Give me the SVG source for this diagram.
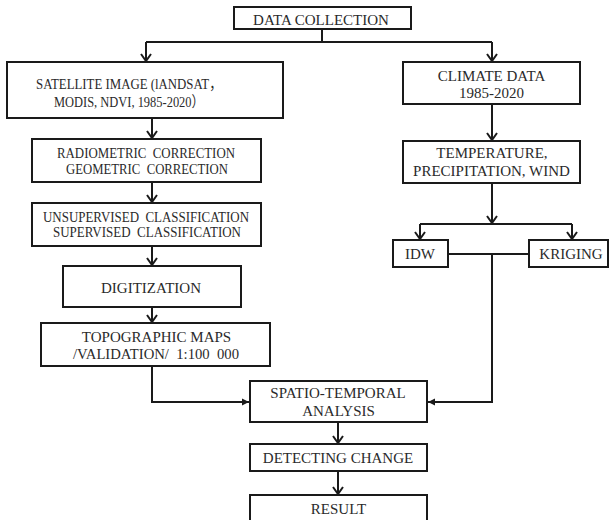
<svg xmlns="http://www.w3.org/2000/svg" width="611" height="520" viewBox="0 0 611 520">
<style>
rect.box{fill:#fff;stroke:#1a1a1a;stroke-width:2}
text{font-family:"Liberation Serif","Times New Roman","Noto Sans CJK SC",serif;font-size:15px;fill:#2a2a2a;text-anchor:middle;white-space:pre}
.c{fill:none;stroke:#1a1a1a;stroke-width:2}
.a{marker-end:url(#chev)}
.f{marker-end:url(#tri)}
</style>
<defs>
<marker id="chev" markerUnits="userSpaceOnUse" markerWidth="20" markerHeight="20" refX="0" refY="0" orient="auto" overflow="visible">
<path d="M-7,-5 L0,0 L-7,5" fill="none" stroke="#1a1a1a" stroke-width="2" stroke-linejoin="miter"/>
</marker>
<marker id="tri" markerUnits="userSpaceOnUse" markerWidth="20" markerHeight="20" refX="0" refY="0" orient="auto" overflow="visible">
<path d="M-7,-3.5 L0,0 L-7,3.5 Z" fill="#1a1a1a"/>
</marker>
</defs>
<rect width="611" height="520" fill="#fff"/>
<g id="connectors">
<path class="c" d="M322,29 V42"/>
<path class="c" d="M146,42 H492"/>
<path class="c a" d="M146,42 V61"/>
<path class="c a" d="M492,42 V61"/>
<path class="c a" d="M152,118 V138"/>
<path class="c a" d="M152,182 V202"/>
<path class="c a" d="M152,246 V265"/>
<path class="c a" d="M152,307 V322"/>
<path class="c f" d="M152,366 V402 H249"/>
<path class="c a" d="M492,104 V140"/>
<path class="c a" d="M492,183 V223"/>
<path class="c" d="M420,224 H572"/>
<path class="c a" d="M420,224 V239"/>
<path class="c a" d="M572,224 V239"/>
<path class="c" d="M448,254 H529"/>
<path class="c f" d="M492,254 V402 H428"/>
<path class="c a" d="M338,422 V443"/>
<path class="c a" d="M338,471 V494"/>
</g>
<g id="data-collection">
<rect class="box" x="234" y="7" width="177" height="22"/>
<text x="321" y="25">DATA COLLECTION</text>
</g>
<g id="satellite-image">
<rect class="box" x="7" y="62" width="276" height="56"/>
<text x="36" y="89" style="text-anchor:start" textLength="186" lengthAdjust="spacingAndGlyphs">SATELLITE IMAGE (lANDSAT，</text>
<text x="54" y="107" style="text-anchor:start" textLength="150" lengthAdjust="spacingAndGlyphs">MODIS, NDVI, 1985-2020）</text>
</g>
<g id="climate-data">
<rect class="box" x="403" y="62" width="177" height="42"/>
<text x="491.5" y="81">CLIMATE DATA</text>
<text x="491.5" y="98">1985-2020</text>
</g>
<g id="correction">
<rect class="box" x="32" y="139" width="229" height="43"/>
<text x="146" y="158" textLength="178" lengthAdjust="spacingAndGlyphs">RADIOMETRIC  CORRECTION</text>
<text x="147" y="174" textLength="162" lengthAdjust="spacingAndGlyphs">GEOMETRIC  CORRECTION</text>
</g>
<g id="classification">
<rect class="box" x="32" y="203" width="229" height="43"/>
<text x="146" y="222" textLength="206" lengthAdjust="spacingAndGlyphs">UNSUPERVISED  CLASSIFICATION</text>
<text x="147" y="237" textLength="188" lengthAdjust="spacingAndGlyphs">SUPERVISED  CLASSIFICATION</text>
</g>
<g id="digitization">
<rect class="box" x="63" y="266" width="178" height="41"/>
<text x="151" y="293">DIGITIZATION</text>
</g>
<g id="topographic-maps">
<rect class="box" x="41" y="323" width="229" height="43"/>
<text x="156.5" y="342">TOPOGRAPHIC MAPS</text>
<text x="156" y="359" textLength="166" lengthAdjust="spacingAndGlyphs">/VALIDATION/  1:100  000</text>
</g>
<g id="temperature">
<rect class="box" x="403" y="141" width="177" height="42"/>
<text x="492" y="158">TEMPERATURE,</text>
<text x="491.5" y="176">PRECIPITATION, WIND</text>
</g>
<g id="idw">
<rect class="box" x="393" y="240" width="55" height="27"/>
<text x="420" y="259">IDW</text>
</g>
<g id="kriging">
<rect class="box" x="529" y="240" width="79" height="27"/>
<text x="571" y="259">KRIGING</text>
</g>
<g id="spatio-temporal">
<rect class="box" x="250" y="381" width="177" height="41"/>
<text x="338" y="398">SPATIO-TEMPORAL</text>
<text x="338.5" y="416">ANALYSIS</text>
</g>
<g id="detecting-change">
<rect class="box" x="250" y="444" width="177" height="27"/>
<text x="338" y="463">DETECTING CHANGE</text>
</g>
<g id="result">
<rect class="box" x="250" y="495" width="177" height="35"/>
<text x="338.5" y="514">RESULT</text>
</g>
</svg>
